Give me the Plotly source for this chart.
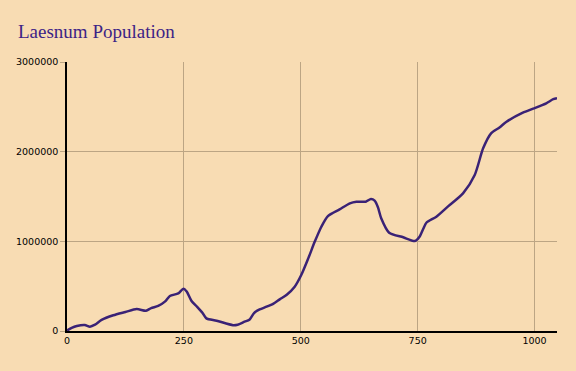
import plotly.graph_objects as go

years = [0, 10, 21, 38, 49, 60, 74, 99, 125, 149, 169, 180, 195, 210, 220, 238, 249, 256,
         266, 278, 290, 298, 320, 355, 365, 380, 390, 400, 412, 427, 440, 455, 470,
         487, 501, 516, 530, 544, 558, 583, 605, 619, 639, 650, 658, 665, 672, 689, 719,
         744, 754, 762, 769, 790, 815, 847, 872, 890, 907, 925, 940, 975, 997, 1025, 1040, 1048]
population = [5000, 35000, 56000, 67000, 48000, 70000, 123000, 175000, 212000, 245000, 226000,
              255000, 279000, 330000, 390000, 420000, 472000, 440000, 338000, 271000, 200000,
              141000, 115000, 65000, 70000, 104000, 125000, 200000, 240000, 271000, 300000,
              353000, 405000, 494000, 624000, 810000, 997000, 1163000, 1282000,
              1357000, 1424000, 1442000, 1442000, 1472000, 1453000, 1380000, 1257000, 1096000,
              1045000, 1004000, 1052000, 1140000, 1210000, 1275000, 1390000, 1535000, 1740000,
              2037000, 2204000, 2270000, 2334000, 2435000, 2480000, 2539000, 2585000, 2595000]

x_ticks = [0, 250, 500, 750, 1000]
y_ticks = [0, 1000000, 2000000, 3000000]

bg = "#F8DCB3"
grid = "#BCA584"

fig = go.Figure(go.Scatter(
    x=years, y=population, mode="lines",
    line=dict(color="#3A2276", width=2.5, shape="spline", smoothing=0.7),
    hoverinfo="x+y"))

fig.update_layout(
    width=576, height=371,
    paper_bgcolor=bg, plot_bgcolor=bg,
    margin=dict(l=67, r=19, t=62, b=40),
    showlegend=False,
    title=dict(text="Laesnum Population", x=18/576, xanchor="left", xref="container",
               y=1 - 31/371, yanchor="middle", yref="container",
               font=dict(family="Liberation Serif", size=19, color="#3D2386")),
    font=dict(family="DejaVu Sans", size=9.5, color="#000000"),
)
fig.update_xaxes(range=[0, 1048], tickvals=x_ticks, ticktext=[str(v) for v in x_ticks],
                 showgrid=True, gridcolor=grid, gridwidth=1, zeroline=False,
                 showline=True, linecolor="#000000", linewidth=1.5,
                 ticks="", fixedrange=True)
fig.update_yaxes(range=[0, 3000000], tickvals=y_ticks, ticktext=[str(v) for v in y_ticks],
                 showgrid=True, gridcolor=grid, gridwidth=1, zeroline=False,
                 showline=True, linecolor="#000000", linewidth=1.5,
                 ticks="outside", ticklen=5, tickcolor=grid, fixedrange=True)

fig.write_html("out.html", config={"displayModeBar": False},
               post_script="document.body.style.margin='0';document.body.style.background='%s';" % bg)
